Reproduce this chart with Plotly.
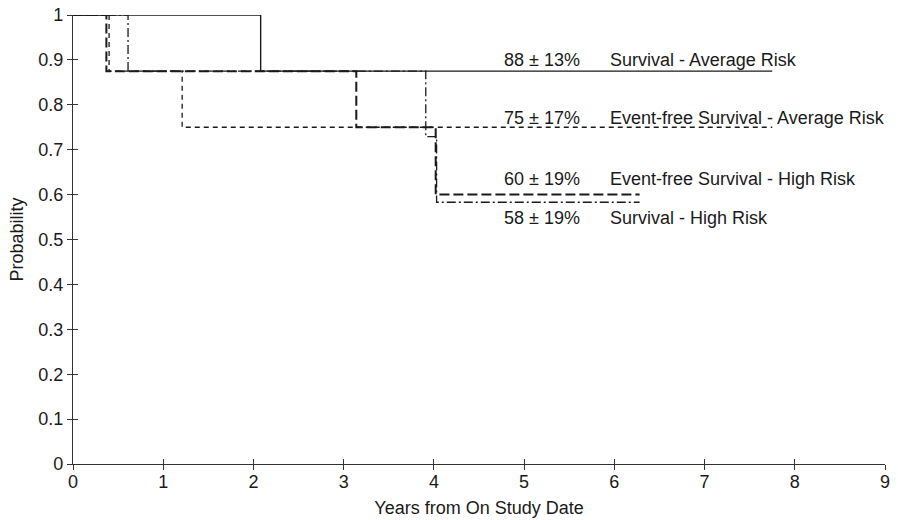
import plotly.graph_objects as go

# Kaplan-Meier step data (years, probability)
surv_avg_x = [0, 2.08, 7.75]
surv_avg_y = [1.0, 0.875, 0.875]

efs_avg_x = [0, 0.40, 1.21, 7.75]
efs_avg_y = [1.0, 0.875, 0.75, 0.75]

efs_high_x = [0, 0.37, 3.14, 4.02, 6.28]
efs_high_y = [1.0, 0.875, 0.75, 0.60, 0.60]

surv_high_x = [0, 0.61, 3.91, 4.03, 6.28]
surv_high_y = [1.0, 0.875, 0.729, 0.583, 0.583]

labels_pct = ["88 ± 13%", "75 ± 17%", "60 ± 19%", "58 ± 19%"]
labels_name = ["Survival - Average Risk", "Event-free Survival - Average Risk",
               "Event-free Survival - High Risk", "Survival - High Risk"]
labels_y = [0.900, 0.770, 0.635, 0.548]

x_ticks = list(range(0, 10))
y_ticks = [0, 0.1, 0.2, 0.3, 0.4, 0.5, 0.6, 0.7, 0.8, 0.9, 1]
y_tick_text = ["0", "0.1", "0.2", "0.3", "0.4", "0.5", "0.6", "0.7", "0.8", "0.9", "1"]

FONT = "Liberation Sans, Arial, sans-serif"
C = "#1a1a1a"
FS = 18

fig = go.Figure()
fig.add_trace(go.Scatter(x=surv_avg_x, y=surv_avg_y, mode="lines", line_shape="hv",
                         line=dict(color=C, width=1.4), showlegend=False))
fig.add_trace(go.Scatter(x=efs_avg_x, y=efs_avg_y, mode="lines", line_shape="hv",
                         line=dict(color=C, width=1.3, dash="5px,4px"), showlegend=False))
fig.add_trace(go.Scatter(x=efs_high_x, y=efs_high_y, mode="lines", line_shape="hv",
                         line=dict(color=C, width=2.0, dash="10px,4px"), showlegend=False))
fig.add_trace(go.Scatter(x=surv_high_x, y=surv_high_y, mode="lines", line_shape="hv",
                         line=dict(color=C, width=1.3, dash="9px,3px,2px,3px"), showlegend=False))
# invisible trace to anchor overlay axes (inner tick halves)
fig.add_trace(go.Scatter(x=[0, 9], y=[0, 1], xaxis="x2", yaxis="y2", mode="markers",
                         marker=dict(opacity=0), hoverinfo="skip", showlegend=False))

for p, n, y in zip(labels_pct, labels_name, labels_y):
    fig.add_annotation(x=4.755, y=y, text=p, showarrow=False, xanchor="left",
                       yanchor="middle", font=dict(family=FONT, size=FS, color=C))
    fig.add_annotation(x=5.93, y=y, text=n, showarrow=False, xanchor="left",
                       yanchor="middle", font=dict(family=FONT, size=FS, color=C))

axis_common = dict(showgrid=False, zeroline=False, showline=True, linecolor="#333",
                   linewidth=1.3, ticks="outside", ticklen=5, tickcolor="#333",
                   tickwidth=1.2, automargin=False,
                   tickfont=dict(family=FONT, size=FS, color=C))

fig.update_layout(
    width=898, height=520,
    margin=dict(l=73, r=13, t=15, b=56),
    plot_bgcolor="white", paper_bgcolor="white",
    xaxis=dict(range=[0, 9], tickvals=x_ticks, ticklabelstandoff=-4,
               title=dict(text="Years from On Study Date", standoff=10,
                          font=dict(family=FONT, size=FS, color=C)), **axis_common),
    yaxis=dict(range=[0, 1], tickvals=y_ticks, ticktext=y_tick_text,
               title=dict(text="Probability", standoff=9,
                          font=dict(family=FONT, size=FS, color=C)), **axis_common),
    xaxis2=dict(overlaying="x", matches="x", range=[0, 9], tickvals=x_ticks,
                showticklabels=False, ticks="inside", ticklen=5, tickcolor="#333",
                tickwidth=1.2, showgrid=False, zeroline=False, showline=False),
    yaxis2=dict(overlaying="y", matches="y", range=[0, 1], tickvals=y_ticks,
                showticklabels=False, ticks="inside", ticklen=5, tickcolor="#333",
                tickwidth=1.2, showgrid=False, zeroline=False, showline=False),
)

fig.write_html("out.html", config={"displayModeBar": False},
               post_script="document.body.style.margin='0';")
